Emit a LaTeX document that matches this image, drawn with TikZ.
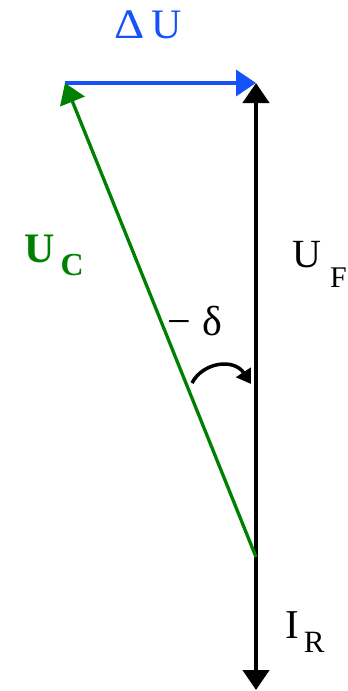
\documentclass[tikz,border=0pt]{standalone}
\usepackage{fontspec}
\setmainfont{Liberation Serif}
\usetikzlibrary{arrows.meta}
\definecolor{vblue}{RGB}{22,82,250}
\definecolor{vgreen}{RGB}{0,128,0}
\begin{document}
\begin{tikzpicture}[x=1pt,y=-1pt,
  vec/.style={-{Triangle[length=20pt,width=26pt]}},
  lbl/.style={inner sep=0pt, anchor=base west, font=\fontsize{42}{42}\selectfont}]
\useasboundingbox (0,0) rectangle (348,691);
\coordinate (O) at (256,557);
\coordinate (A) at (256,83);
\coordinate (B) at (65,83);
\coordinate (D) at (256,690);
\coordinate (s) at (192,383);
\coordinate (e) at (251,384);
% I_R and U_F
\draw[vec, line width=4.5pt] (O) -- (D);
\draw[vec, line width=4.5pt] (O) -- (A);
% Delta U
\draw[vec, line width=3.5pt, vblue] (B) -- (A);
% U_C
\draw[vec, line width=3.3pt, vgreen] (O) -- (B);
% angle arc
\draw[line width=3.5pt, -{Triangle[length=14pt,width=17pt]}] (s) .. controls (203,362) and (234,358) .. (e);
% labels
\node[lbl, vblue] (lDU) at (114,38) {\scalebox{1.12}[1]{Δ}\hspace{7pt}U};
\node[lbl, vgreen, font=\fontsize{42}{42}\selectfont\bfseries] (lUC) at (24,262) {U\hspace{6pt}\raisebox{-13pt}{\fontsize{32}{32}\selectfont C}};
\node[lbl, font=\fontsize{40}{40}\selectfont] (lUF) at (292,267) {U\hspace{9pt}\raisebox{-20pt}{\fontsize{30}{30}\selectfont F}};
\node[lbl] (ldelta) at (167,335) {−\hspace{12pt}δ};
\node[lbl, font=\fontsize{41}{41}\selectfont] (lIR) at (285,638) {I\hspace{5pt}\raisebox{-14pt}{\fontsize{31}{31}\selectfont R}};
\end{tikzpicture}
\end{document}
